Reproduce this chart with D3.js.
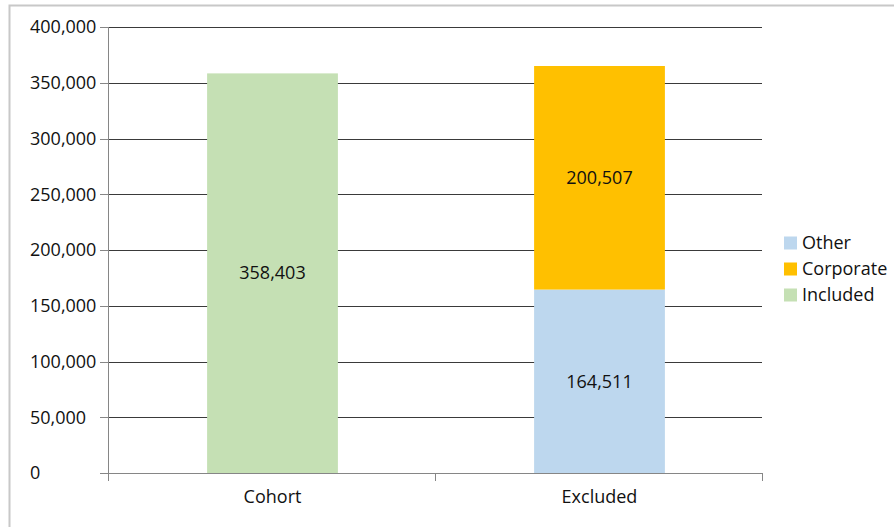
<!DOCTYPE html>
<html>
<head>
<meta charset="utf-8">
<script src="https://cdn.jsdelivr.net/npm/d3@7"></script>
<style>
  html, body { margin: 0; padding: 0; background: #fff; }
  svg { display: block; }
  text { font-family: "Open Sans", "Liberation Sans", sans-serif; fill: #111; }
</style>
</head>
<body>
<svg id="chart" width="894" height="527"></svg>
<script>
// Cohort vs excluded records, stacked by segment
const categories = ["Cohort", "Excluded"];
const includedValues = [358403, 0];
const otherValues = [0, 164511];
const corporateValues = [0, 200507];
const yTicks = [0, 50000, 100000, 150000, 200000, 250000, 300000, 350000, 400000];
const legendItems = ["Other", "Corporate", "Included"];
const colors = { Included: "#c5e0b4", Corporate: "#ffc000", Other: "#bdd7ee" };

const svg = d3.select("#chart");

// outer chart frame
svg.append("rect")
  .attr("x", 9.5).attr("y", 5.5)
  .attr("width", 900).attr("height", 540)
  .attr("fill", "none").attr("stroke", "#c8c8c8").attr("stroke-width", 2);

const plot = { left: 108, right: 762, top: 27, bottom: 473 };

const x = d3.scaleBand().domain(categories)
  .range([plot.left, plot.right]).paddingInner(0.6).paddingOuter(0.3);
const band = d3.scaleBand().domain(categories).range([plot.left, plot.right]);
const y = d3.scaleLinear().domain([0, 400000]).range([plot.bottom, plot.top]);

// horizontal gridlines
svg.append("g").selectAll("line").data(yTicks.filter(d => d > 0)).join("line")
  .attr("x1", plot.left).attr("x2", plot.right)
  .attr("y1", d => Math.round(y(d)) + 0.5).attr("y2", d => Math.round(y(d)) + 0.5)
  .attr("stroke", "#3a3a3a").attr("stroke-width", 1);

// stacked segments: Other at the bottom, Corporate on top, Included alone
const rows = categories.map((c, i) => ({
  category: c, Included: includedValues[i], Other: otherValues[i], Corporate: corporateValues[i]
}));
const stack = d3.stack().keys(["Included", "Other", "Corporate"]);
const layers = stack(rows);

const segs = svg.append("g");
layers.forEach(layer => {
  layer.forEach(d => {
    const v = d[1] - d[0];
    if (v <= 0) return;
    segs.append("rect")
      .attr("x", x(d.data.category) + 1)
      .attr("width", x.bandwidth())
      .attr("y", y(d[1]))
      .attr("height", y(d[0]) - y(d[1]))
      .attr("fill", colors[layer.key]);
    segs.append("text")
      .attr("x", x(d.data.category) + 1 + x.bandwidth() / 2)
      .attr("y", (y(d[0]) + y(d[1])) / 2)
      .attr("dy", "0.35em")
      .attr("text-anchor", "middle")
      .style("font-size", "18px")
      .text(d3.format(",")(v));
  });
});

// y axis line and ticks
const axisColor = "#868686";
svg.append("line")
  .attr("x1", plot.left + 0.5).attr("x2", plot.left + 0.5)
  .attr("y1", plot.top).attr("y2", plot.bottom + 8)
  .attr("stroke", axisColor);
svg.append("g").selectAll("line").data(yTicks).join("line")
  .attr("x1", plot.left - 8).attr("x2", plot.left)
  .attr("y1", d => Math.round(y(d)) + 0.5).attr("y2", d => Math.round(y(d)) + 0.5)
  .attr("stroke", axisColor);
svg.append("g").selectAll("text").data(yTicks).join("text")
  .attr("x", 30)
  .attr("y", d => y(d))
  .attr("dy", "0.35em")
  .style("font-size", "18px")
  .text(d => d3.format(",")(d));

// x axis line, ticks between categories, labels
svg.append("line")
  .attr("x1", plot.left - 8).attr("x2", plot.right)
  .attr("y1", plot.bottom + 0.5).attr("y2", plot.bottom + 0.5)
  .attr("stroke", axisColor);
const xTickPos = [plot.left, band("Excluded"), plot.right];
svg.append("g").selectAll("line").data(xTickPos).join("line")
  .attr("x1", d => Math.round(d) + 0.5).attr("x2", d => Math.round(d) + 0.5)
  .attr("y1", plot.bottom).attr("y2", plot.bottom + 8)
  .attr("stroke", axisColor);
svg.append("g").selectAll("text").data(categories).join("text")
  .attr("x", d => x(d) + 1 + x.bandwidth() / 2)
  .attr("y", 497)
  .attr("dy", "0.35em")
  .attr("text-anchor", "middle")
  .style("font-size", "18px")
  .text(d => d);

// legend
const legend = svg.append("g");
legendItems.forEach((name, i) => {
  const cy = 243 + i * 26;
  legend.append("rect")
    .attr("x", 784).attr("y", cy - 6.5).attr("width", 13).attr("height", 13)
    .attr("fill", colors[name]);
  legend.append("text")
    .attr("x", 802).attr("y", cy).attr("dy", "0.35em")
    .style("font-size", "18px")
    .text(name);
});
</script>
</body>
</html>
